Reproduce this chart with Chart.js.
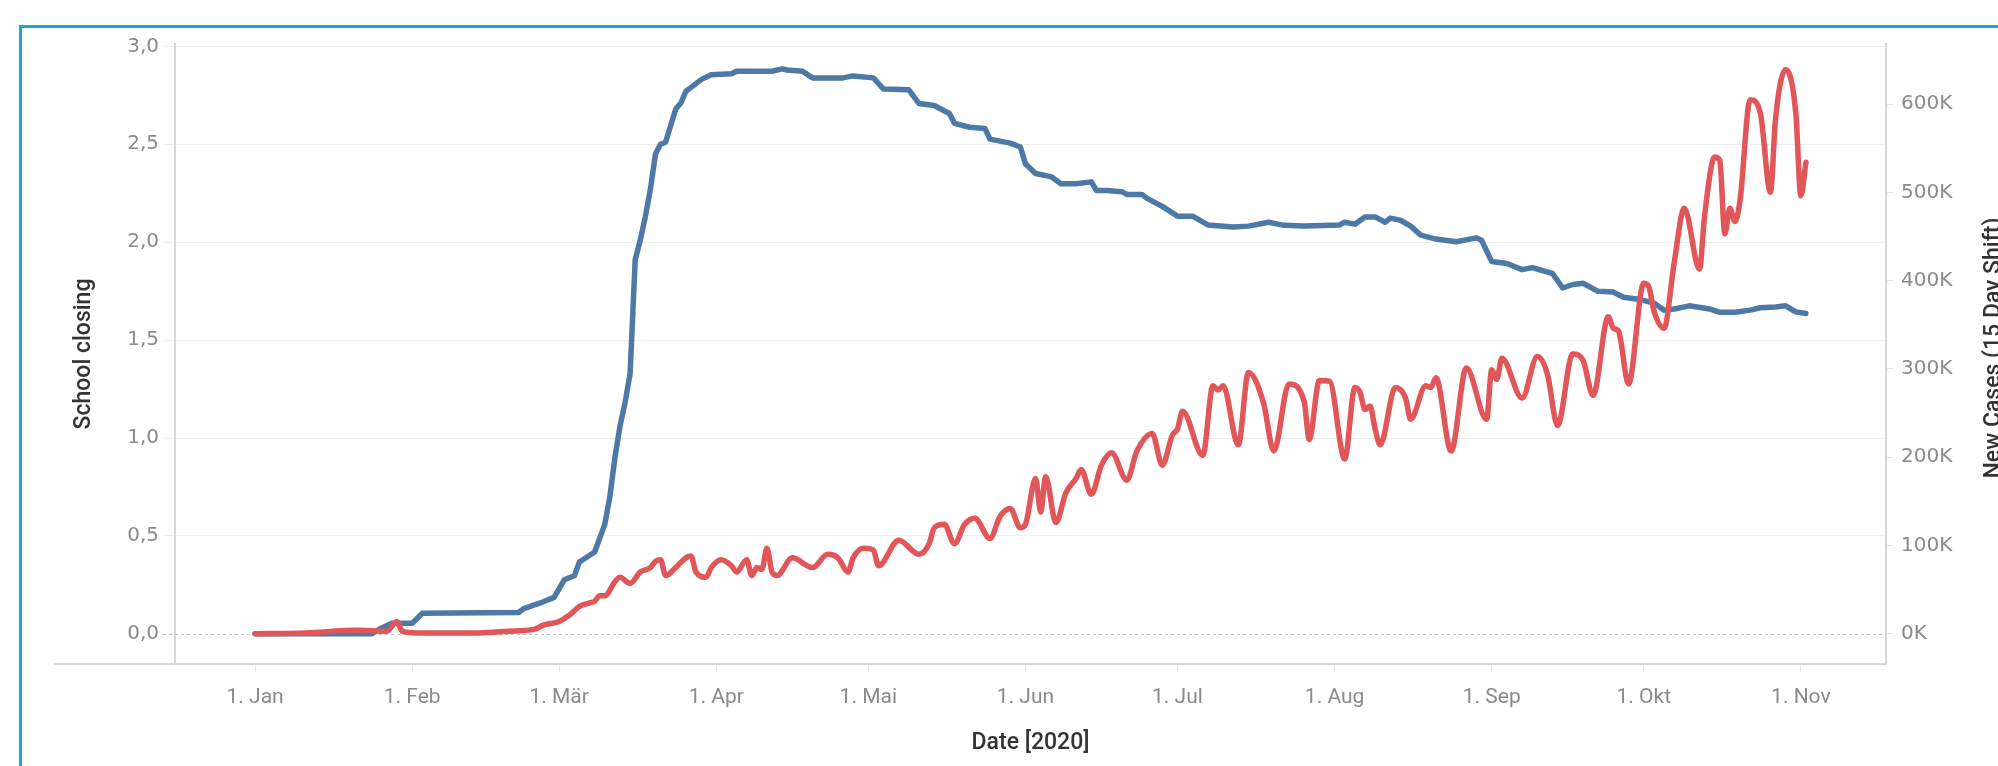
<!DOCTYPE html>
<html>
<head>
<meta charset="utf-8">
<title>School closing vs new cases</title>
<script src="https://cdn.jsdelivr.net/npm/chart.js@4.4.1/dist/chart.umd.min.js"></script>
<style>
  html, body { margin: 0; padding: 0; background: #fff; }
  #wrap { position: relative; width: 1998px; height: 766px; overflow: hidden; }
  #frame { position: absolute; left: 19px; top: 25px; width: 2100px; height: 900px;
           border-left: 3px solid #1ca8cd; border-top: 3px solid #1ca8cd; }
  canvas { position: absolute; left: 0; top: 0; }
</style>
</head>
<body>
<div id="wrap">
  <div id="frame"></div>
  <canvas id="chart" width="1998" height="766"></canvas>
</div>
<script>
// x values are days since 1 Jan 2020
var monthTicks = [0, 31, 60, 91, 121, 152, 182, 213, 244, 274, 305];
var monthLabels = ['1. Jan', '1. Feb', '1. Mär', '1. Apr', '1. Mai', '1. Jun', '1. Jul', '1. Aug', '1. Sep', '1. Okt', '1. Nov'];
var closingTicks = [0, 0.5, 1, 1.5, 2, 2.5, 3];
var casesTicks = [0, 100, 200, 300, 400, 500, 600]; // thousands

// School closing (left axis)
var closingDays = [0, 23, 25, 27, 31, 33, 52, 53, 57, 59, 61, 63, 64, 67, 69, 70, 71, 72, 73, 74,
  75, 76, 77, 78, 79, 80, 81, 83, 84, 85, 87, 88, 90, 94, 95, 102, 104, 105, 108, 110,
  116, 118, 122, 124, 129, 131, 134, 137, 138, 141, 144, 145, 149, 151, 152, 154, 157, 159, 162, 165,
  166, 168, 171, 172, 175, 176, 179, 182, 185, 188, 193, 196, 200, 203, 207, 214, 215, 217, 219, 221,
  223, 224, 226, 228, 230, 233, 237, 241, 242, 244, 247, 250, 252, 256, 258, 260, 262, 265, 268, 270,
  273, 276, 278, 280, 283, 287, 289, 292, 295, 297, 300, 302, 304, 306];
var closingValues = [0, 0, 0.03, 0.054, 0.054, 0.105, 0.109, 0.129, 0.165, 0.186, 0.276, 0.297, 0.367, 0.418, 0.559, 0.70, 0.90, 1.06, 1.18, 1.33,
  1.91, 2.01, 2.13, 2.27, 2.45, 2.50, 2.51, 2.68, 2.71, 2.77, 2.81, 2.83, 2.855, 2.86, 2.873, 2.873, 2.885, 2.879, 2.873, 2.839,
  2.839, 2.849, 2.839, 2.782, 2.778, 2.708, 2.698, 2.657, 2.607, 2.587, 2.581, 2.526, 2.506, 2.486, 2.40, 2.351, 2.335, 2.298, 2.298, 2.308,
  2.264, 2.264, 2.258, 2.244, 2.244, 2.224, 2.183, 2.133, 2.133, 2.088, 2.078, 2.082, 2.102, 2.086, 2.082, 2.088, 2.102, 2.092, 2.129, 2.129,
  2.102, 2.123, 2.112, 2.082, 2.036, 2.016, 2.002, 2.022, 2.01, 1.901, 1.891, 1.860, 1.870, 1.840, 1.766, 1.784, 1.790, 1.749, 1.745, 1.719,
  1.709, 1.689, 1.653, 1.659, 1.675, 1.659, 1.642, 1.642, 1.653, 1.665, 1.669, 1.675, 1.644, 1.636];

// New cases, 15 day shift (right axis, thousands)
var casesDays = [0, 10, 20, 26, 28, 29, 32, 43, 50, 55, 57, 60, 62, 64, 66, 67, 68, 69, 71, 72,
  74, 76, 78, 79, 80, 81, 83, 85, 86, 87, 89, 90, 92, 94, 95, 97, 98, 99, 100, 101,
  102, 103, 106, 110, 113, 115, 117, 118, 120, 122, 123, 127, 131, 133, 134, 136, 138, 140, 142, 145,
  147, 149, 151, 152, 154, 155, 156, 158, 160, 162, 163, 165, 167, 169, 172, 174, 177, 179, 181, 182,
  183, 187, 189, 190, 191, 194, 196, 199, 201, 204, 207, 208, 210, 212, 215, 217, 218, 219, 220, 221,
  222, 225, 227, 228, 231, 232, 233, 236, 239, 243, 244, 245, 246, 250, 253, 255, 257, 260, 262, 264,
  267, 268, 269, 271, 274, 275, 276, 278, 280, 282, 285, 286, 288, 289, 290, 291, 292, 293, 295, 297,
  299, 300, 302, 304, 305, 306];
var casesValues = [0, 1, 4, 3, 14, 3, 1, 1, 3, 5, 10, 14, 21, 31, 35, 37, 43, 43, 59, 64,
  57, 70, 75, 82, 84, 66, 75, 86, 88, 70, 64, 75, 84, 77, 70, 84, 66, 75, 73, 97,
  70, 66, 86, 75, 90, 86, 70, 86, 97, 95, 77, 106, 90, 102, 120, 124, 102, 124, 131, 108,
  133, 142, 120, 124, 176, 138, 178, 126, 160, 176, 186, 158, 191, 205, 174, 207, 227, 191, 225, 232,
  252, 202, 281, 276, 281, 214, 296, 261, 207, 283, 263, 220, 287, 286, 198, 279, 274, 254, 258, 232,
  214, 279, 267, 243, 281, 279, 290, 207, 301, 243, 299, 288, 312, 267, 314, 294, 236, 317, 310, 270,
  359, 346, 343, 283, 397, 393, 366, 346, 420, 482, 413, 473, 540, 536, 453, 482, 467, 491, 605, 590,
  500, 583, 639, 590, 496, 534];

function toPoints(days, values) {
    return days.map(function (d, i) {
        return {x: d, y: values[i]};
    });
}

var tickGray = '#8a8a8a';
var axisGray = '#d6d6d6';

// zero line, bottom axis line and the right axis title (Tableau reads it bottom to top)
var decorations = {
    id: 'decorations',
    beforeDatasetsDraw: function (chart) {
        var ctx = chart.ctx;
        var area = chart.chartArea;
        var y0 = Math.round(chart.scales.y.getPixelForValue(0)) + 0.5;
        ctx.save();
        ctx.strokeStyle = '#c2c2c2';
        ctx.lineWidth = 1;
        ctx.setLineDash([3, 3]);
        ctx.beginPath();
        ctx.moveTo(area.left - 12, y0);
        ctx.lineTo(area.right, y0);
        ctx.stroke();
        ctx.setLineDash([]);
        ctx.strokeStyle = axisGray;
        ctx.lineWidth = 2;
        ctx.beginPath();
        ctx.moveTo(54, area.bottom);
        ctx.lineTo(area.right, area.bottom);
        ctx.stroke();
        ctx.restore();
    },
    afterDraw: function (chart) {
        var ctx = chart.ctx;
        var area = chart.chartArea;
        ctx.save();
        ctx.translate(1994, (area.top + area.bottom) / 2 - 6);
        ctx.rotate(-Math.PI / 2);
        ctx.textAlign = 'center';
        ctx.textBaseline = 'middle';
        ctx.fillStyle = '#333';
        ctx.font = '500 23px Roboto';
        ctx.fillText('New Cases (15 Day Shift)', 0, 0);
        ctx.restore();
    }
};

Chart.defaults.font.family = 'Roboto';

var ctx = document.getElementById('chart');
new Chart(ctx, {
    type: 'line',
    data: {
        datasets: [
            {
                label: 'New Cases (15 Day Shift)',
                data: toPoints(casesDays, casesValues),
                yAxisID: 'y1',
                borderColor: '#e15759',
                borderWidth: 5.5,
                pointRadius: 0,
                cubicInterpolationMode: 'monotone',
                borderJoinStyle: 'round',
                borderCapStyle: 'round',
                order: 0
            },
            {
                label: 'School closing',
                data: toPoints(closingDays, closingValues),
                yAxisID: 'y',
                borderColor: '#4e79a7',
                borderWidth: 5.5,
                pointRadius: 0,
                tension: 0,
                borderJoinStyle: 'round',
                borderCapStyle: 'round',
                order: 1
            }
        ]
    },
    options: {
        responsive: false,
        animation: false,
        devicePixelRatio: 1,
        layout: {padding: {top: 44, left: 0, right: 0, bottom: 0}},
        plugins: {
            legend: {display: false},
            tooltip: {enabled: false}
        },
        scales: {
            x: {
                type: 'linear',
                min: -15.8,
                max: 321.8,
                afterBuildTicks: function (scale) {
                    scale.ticks = monthTicks.map(function (v) { return {value: v}; });
                },
                afterFit: function (scale) { scale.height = 102; },
                grid: {drawOnChartArea: false, tickLength: 8, tickColor: '#e4e4e4', tickWidth: 1},
                border: {display: false},
                ticks: {
                    autoSkip: false,
                    maxRotation: 0,
                    padding: 13,
                    color: tickGray,
                    font: {size: 21},
                    callback: function (v, i) { return monthLabels[i]; }
                },
                title: {
                    display: true,
                    text: 'Date [2020]',
                    color: '#333',
                    font: {size: 23, weight: '500'},
                    padding: {top: 0, bottom: 9}
                }
            },
            y: {
                position: 'left',
                min: -0.154,
                max: 3.012,
                afterBuildTicks: function (scale) {
                    scale.ticks = closingTicks.map(function (v) { return {value: v}; });
                },
                afterFit: function (scale) { scale.width = 175; },
                grid: {
                    color: function (c) {
                        return c.tick && c.tick.value === 0 ? 'rgba(0,0,0,0)' : '#eeeeee';
                    },
                    lineWidth: 1,
                    tickLength: 12
                },
                border: {color: axisGray, width: 2},
                ticks: {
                    padding: 4,
                    color: tickGray,
                    font: {family: 'DejaVu Sans', size: 20},
                    callback: function (v) { return v.toFixed(1).replace('.', ','); }
                },
                title: {
                    display: true,
                    text: 'School closing',
                    color: '#333',
                    font: {size: 23, weight: '500'},
                    padding: {top: 70}
                }
            },
            y1: {
                position: 'right',
                min: -34.2,
                max: 668,
                afterBuildTicks: function (scale) {
                    scale.ticks = casesTicks.map(function (v) { return {value: v}; });
                },
                afterFit: function (scale) { scale.width = 112; },
                grid: {drawOnChartArea: false, tickLength: 7, tickColor: '#e2e2e2'},
                border: {color: axisGray, width: 2},
                ticks: {
                    padding: 8,
                    color: tickGray,
                    font: {family: 'DejaVu Sans', size: 20},
                    callback: function (v) { return v + 'K'; }
                }
            }
        }
    },
    plugins: [decorations]
});
</script>
</body>
</html>
